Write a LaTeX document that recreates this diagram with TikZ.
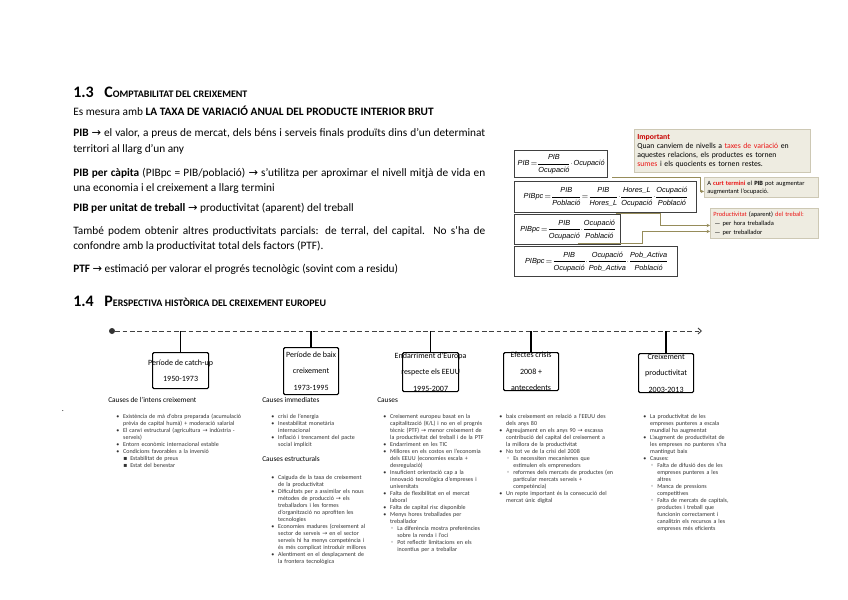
\documentclass[tikz,border=0pt]{standalone}
\usepackage{amsmath}
\usepackage{fontspec}
\setmainfont{Carlito}
\newfontfamily\symf{DejaVu Sans}
\newfontfamily\formf{Liberation Sans}
\usetikzlibrary{arrows.meta, positioning, calc}

\definecolor{notebg}{RGB}{238,236,225}
\definecolor{notebd}{RGB}{205,200,180}
\definecolor{conncol}{RGB}{150,140,90}
\definecolor{notered}{RGB}{235,20,20}
\definecolor{impred}{RGB}{200,0,0}

\newcommand{\bodyfont}{\fontsize{8.5}{12}\selectfont}
\newcommand{\fmlfont}{\formf\fontsize{5.5}{6.5}\selectfont\thickmuskip=2mu\medmuskip=1mu\nulldelimiterspace=0pt}
\newcommand{\rarr}{{\symf →}}
\newcommand{\bul}[1]{\par\hangindent=5.2pt\hangafter=1\noindent\makebox[5.2pt][l]{\textbullet}#1}
\newcommand{\sqbul}[1]{\par\hangindent=10.5pt\hangafter=1\noindent\hspace*{5.3pt}\makebox[5.2pt][l]{{\symf ▪}}#1}
\newcommand{\obul}[1]{\par\hangindent=10.5pt\hangafter=1\noindent\hspace*{5.3pt}\makebox[5.2pt][l]{{\symf ◦}}#1}

\begin{document}
\begin{tikzpicture}[
    x=0.75pt, y=-0.75pt,
    para/.style={anchor=base west, inner sep=0, font=\bodyfont},
    head/.style={anchor=base west, inner sep=0, font=\bfseries},
    formula/.style={draw=black!75, line width=0.9pt, anchor=north west, inner sep=0, font=\fmlfont},
    note/.style={draw=notebd, fill=notebg, line width=0.6pt, anchor=north west, inner xsep=2.2pt, inner ysep=0pt, align=left},
    conn/.style={draw=conncol, line width=0.5pt, -{Stealth[length=2.5pt, width=2.5pt]}},
    era/.style={draw=black, line width=0.9pt, anchor=north west, inner sep=0, rounded corners=1pt},
    eralabel/.style={align=center, inner sep=0, font=\fontsize{6}{12.4}\selectfont},
    tick/.style={draw=black, line width=1pt},
    tline/.style={draw=black!75, line width=0.7pt, dash pattern=on 3.5pt off 2pt, -{Straight Barb[length=2.5pt, width=4.5pt]}},
    causehead/.style={anchor=north west, inner sep=0, font=\fontsize{5.5}{6}\selectfont},
    causelist/.style={anchor=north west, inner sep=0, align=left, text width=125pt, font=\fontsize{4.5}{5.25}\selectfont, text=black!80}
  ]
    \fill[white] (0,0) rectangle (848,599);
    \useasboundingbox (0,0) rectangle (848,599);

    % 1.3 Comptabilitat del creixement
    \node[head] (h13) at (73,98) {\fontsize{12}{14}\selectfont 1.3\hspace{8pt}C\fontsize{7.5}{9}\selectfont OMPTABILITAT DEL CREIXEMENT};
    \node[para] (l1) at (73,116) {Es mesura amb \textbf{LA TAXA DE VARIACIÓ ANUAL DEL PRODUCTE INTERIOR BRUT}};
    \node[para] (l2) at (73,137) {\makebox[309pt][s]{\textbf{PIB} \rarr{} el valor, a preus de mercat, dels béns i serveis finals produïts dins d’un determinat}};
    \node[para] (l3) at (73,152) {territori al llarg d’un any};
    \node[para] (l4) at (73,176) {\makebox[309pt][s]{\textbf{PIB per càpita} (PIBpc = PIB/població) \rarr{} s’utilitza per aproximar el nivell mitjà de vida en}};
    \node[para] (l5) at (73,191) {una economia i el creixement a llarg termini};
    \node[para] (l6) at (73,211) {\textbf{PIB per unitat de treball} \rarr{} productivitat (aparent) del treball};
    \node[para] (l7) at (73,234) {\makebox[309pt][s]{També podem obtenir altres productivitats parcials: de terral, del capital. No s’ha de}};
    \node[para] (l8) at (73,249) {confondre amb la productivitat total dels factors (PTF).};
    \node[para] (l9) at (73,272) {\textbf{PTF} \rarr{} estimació per valorar el progrés tecnològic (sovint com a residu)};

    % Formulas
    \node[formula, minimum width=69.75pt, minimum height=20.25pt] (f1) at (514,150)
      {$\textit{PIB}=\dfrac{\textit{PIB}}{\textit{Ocupació}}\cdot\textit{Ocupació}$};
    \node[formula, minimum width=136.5pt, minimum height=23.25pt] (f2) at (514,181)
      {$\textit{PIBpc}=\dfrac{\textit{PIB}}{\textit{Població}}=\dfrac{\textit{PIB}}{\textit{Hores\_L}}\cdot\dfrac{\textit{Hores\_L}}{\textit{Ocupació}}\cdot\dfrac{\textit{Ocupació}}{\textit{Població}}$};
    \node[formula, minimum width=79.5pt, minimum height=22.5pt] (f3) at (514,214)
      {$\textit{PIBpc}=\dfrac{\textit{PIB}}{\textit{Ocupació}}\cdot\dfrac{\textit{Ocupació}}{\textit{Població}}$};
    \node[formula, minimum width=122.25pt, minimum height=22.5pt] (f4) at (514,246)
      {$\textit{PIBpc}=\dfrac{\textit{PIB}}{\textit{Ocupació}}\cdot\dfrac{\textit{Ocupació}}{\textit{Pob\_Activa}}\cdot\dfrac{\textit{Pob\_Activa}}{\textit{Població}}$};

    % Notes
    \node[note, minimum height=32.25pt, text width=127.5pt, font=\fontsize{5.8}{6.75}\selectfont] (imp) at (634,129)
      {{\color{impred}\bfseries Important}\newline Quan canviem de nivells a {\color{notered}taxes de variació} en\newline aquestes relacions, els productes es tornen\newline {\color{notered}sumes} i els quocients es tornen restes.};
    \node[note, minimum height=15pt, text width=81pt, font=\fontsize{4.8}{6}\selectfont] (cnote) at (704,177)
      {A {\color{notered}\bfseries curt termini} el \textbf{PIB} pot augmentar\newline augmentant l’ocupació.};
    \node[note, minimum height=22.5pt, text width=76.5pt, font=\fontsize{4.8}{6.75}\selectfont] (pnote) at (710,208)
      {{\color{notered}Productivitat} (aparent) {\color{notered}del treball:}\newline\hspace*{1pt}— per hora treballada\newline\hspace*{1pt}— per treballador};

    \draw[conn] ($(f1.south east)+(4,-1)$) -| ($(cnote.west)+(-4,4)$) -- ($(cnote.west)+(0,4)$);
    \draw[conn] ($(f2.south)+(10,0)$) -- ++(45,0) |- ($(pnote.west)+(0,2)$);
    \draw[conn] ($(f3.south)+(10,-2)$) -- ++(65,0) |- ($(pnote.west)+(0,8)$);

    % 1.4 Perspectiva historica
    \node[head] (h14) at (73,306) {\fontsize{12}{14}\selectfont 1.4\hspace{8pt}P\fontsize{7.5}{9}\selectfont ERSPECTIVA HISTÒRICA DEL CREIXEMENT EUROPEU};

    % Timeline
    \node[circle, fill=black!80, inner sep=0, minimum size=4.5pt] (tstart) at (112,331) {};
    \coordinate (tend) at (702,331);
    \draw[tline] (tstart) -- (tend);

    \node[era, minimum width=42pt, minimum height=27pt] (e1) at (152,352) {};
    \node[era, minimum width=41.25pt, minimum height=35.25pt] (e2) at (283,347) {};
    \node[era, minimum width=42pt, minimum height=29.25pt] (e3) at (402,352) {};
    \node[era, minimum width=41.25pt, minimum height=28.5pt] (e4) at (503,352) {};
    \node[era, minimum width=41.25pt, minimum height=29.25pt] (e5) at (638,353) {};
    \node[eralabel] (e1t) at (e1.center) {Període de catch-up\\1950-1973};
    \node[eralabel] (e2t) at (e2.center) {Període de baix\\creixement\\1973-1995};
    \node[eralabel] (e3t) at (e3.center) {Endarriment d’Europa\\respecte els EEUU\\1995-2007};
    \node[eralabel] (e4t) at (e4.center) {Efectes crisis\\2008 +\\antecedents};
    \node[eralabel] (e5t) at (e5.center) {Creixement\\productivitat\\2003-2013};
    \foreach \e in {e1,e2,e3,e4,e5}
      \draw[tick] (\e.north |- tstart) -- (\e.north);

    \node[inner sep=0, font=\fontsize{6}{6}\selectfont] (mark) at (63,411) {.};

    % Causes columns
    \node[causehead] (c1h) at (108,397) {Causes de l’intens creixement};
    \node[causelist] (c1) at (116,411) {%
      \bul{Existència de mà d’obra preparada (acumulació\newline prèvia de capital humà) + moderació salarial}
      \bul{El canvi estructural (agricultura \rarr{} indústria -\newline serveis)}
      \bul{Entorn econòmic internacional estable}
      \bul{Condicions favorables a la inversió}
      \sqbul{Estabilitat de preus}
      \sqbul{Estat del benestar}\par};

    \node[causehead] (c2h) at (262,397) {Causes immediates};
    \node[causelist] (c2) at (271,411) {%
      \bul{crisi de l’energia}
      \bul{Inestabilitat monetària\newline internacional}
      \bul{Inflació i trencament del pacte\newline social implícit}\par};
    \node[causehead] (c2h2) at (262,456) {Causes estructurals};
    \node[causelist] (c2b) at (271,472) {%
      \bul{Caiguda de la taxa de creixement\newline de la productivitat}
      \bul{Dificultats per a assimilar els nous\newline mètodes de producció \rarr{} els\newline treballadors i les formes\newline d’organització no aprofiten les\newline tecnologies}
      \bul{Economies madures (creixement al\newline sector de serveis \rarr{} en el sector\newline serveis hi ha menys competència i\newline és més complicat introduir millores}
      \bul{Alentiment en el desplaçament de\newline la frontera tecnològica}\par};

    \node[causehead] (c3h) at (377,397) {Causes};
    \node[causelist] (c3) at (383,411) {%
      \bul{Creixement europeu basat en la\newline capitalització (K/L) i no en el progrés\newline tècnic (PTF) \rarr{} menor creixement de\newline la productivitat del treball i de la PTF}
      \bul{Endarriment en les TIC}
      \bul{Millores en els costos en l’economia\newline dels EEUU (economies escala +\newline desregulació)}
      \bul{Insuficient orientació cap a la\newline innovació tecnològica d’empreses i\newline universitats}
      \bul{Falta de flexibilitat en el mercat\newline laboral}
      \bul{Falta de capital risc disponible}
      \bul{Menys hores treballades per\newline treballador}
      \obul{La diferència mostra preferències\newline sobre la renda i l’oci}
      \obul{Pot reflectir limitacions en els\newline incentius per a treballar}\par};

    \node[causelist] (c4) at (499,411) {%
      \bul{baix creixement en relació a l’EEUU des\newline dels anys 80}
      \bul{Agreujament en els anys 90 \rarr{} escassa\newline contribució del capital del creixement a\newline la millora de la productivitat}
      \bul{No tot ve de la crisi del 2008}
      \obul{Es necessiten mecanismes que\newline estimulen els emprenedors}
      \obul{reformes dels mercats de productes (en\newline particular mercats serveis +\newline competència)}
      \bul{Un repte important és la consecució del\newline mercat únic digital}\par};

    \node[causelist] (c5) at (643,411) {%
      \bul{La productivitat de les\newline empreses punteres a escala\newline mundial ha augmentat}
      \bul{L’augment de productivitat de\newline les empreses no punteres s’ha\newline mantingut baix}
      \bul{Causes:}
      \obul{Falta de difusió des de les\newline empreses punteres a les\newline altres}
      \obul{Manca de pressions\newline competitives}
      \obul{Falta de mercats de capitals,\newline productes i treball que\newline funcionin correctament i\newline canalitzin els recursos a les\newline empreses més eficients}\par};

  \end{tikzpicture}
\end{document}
